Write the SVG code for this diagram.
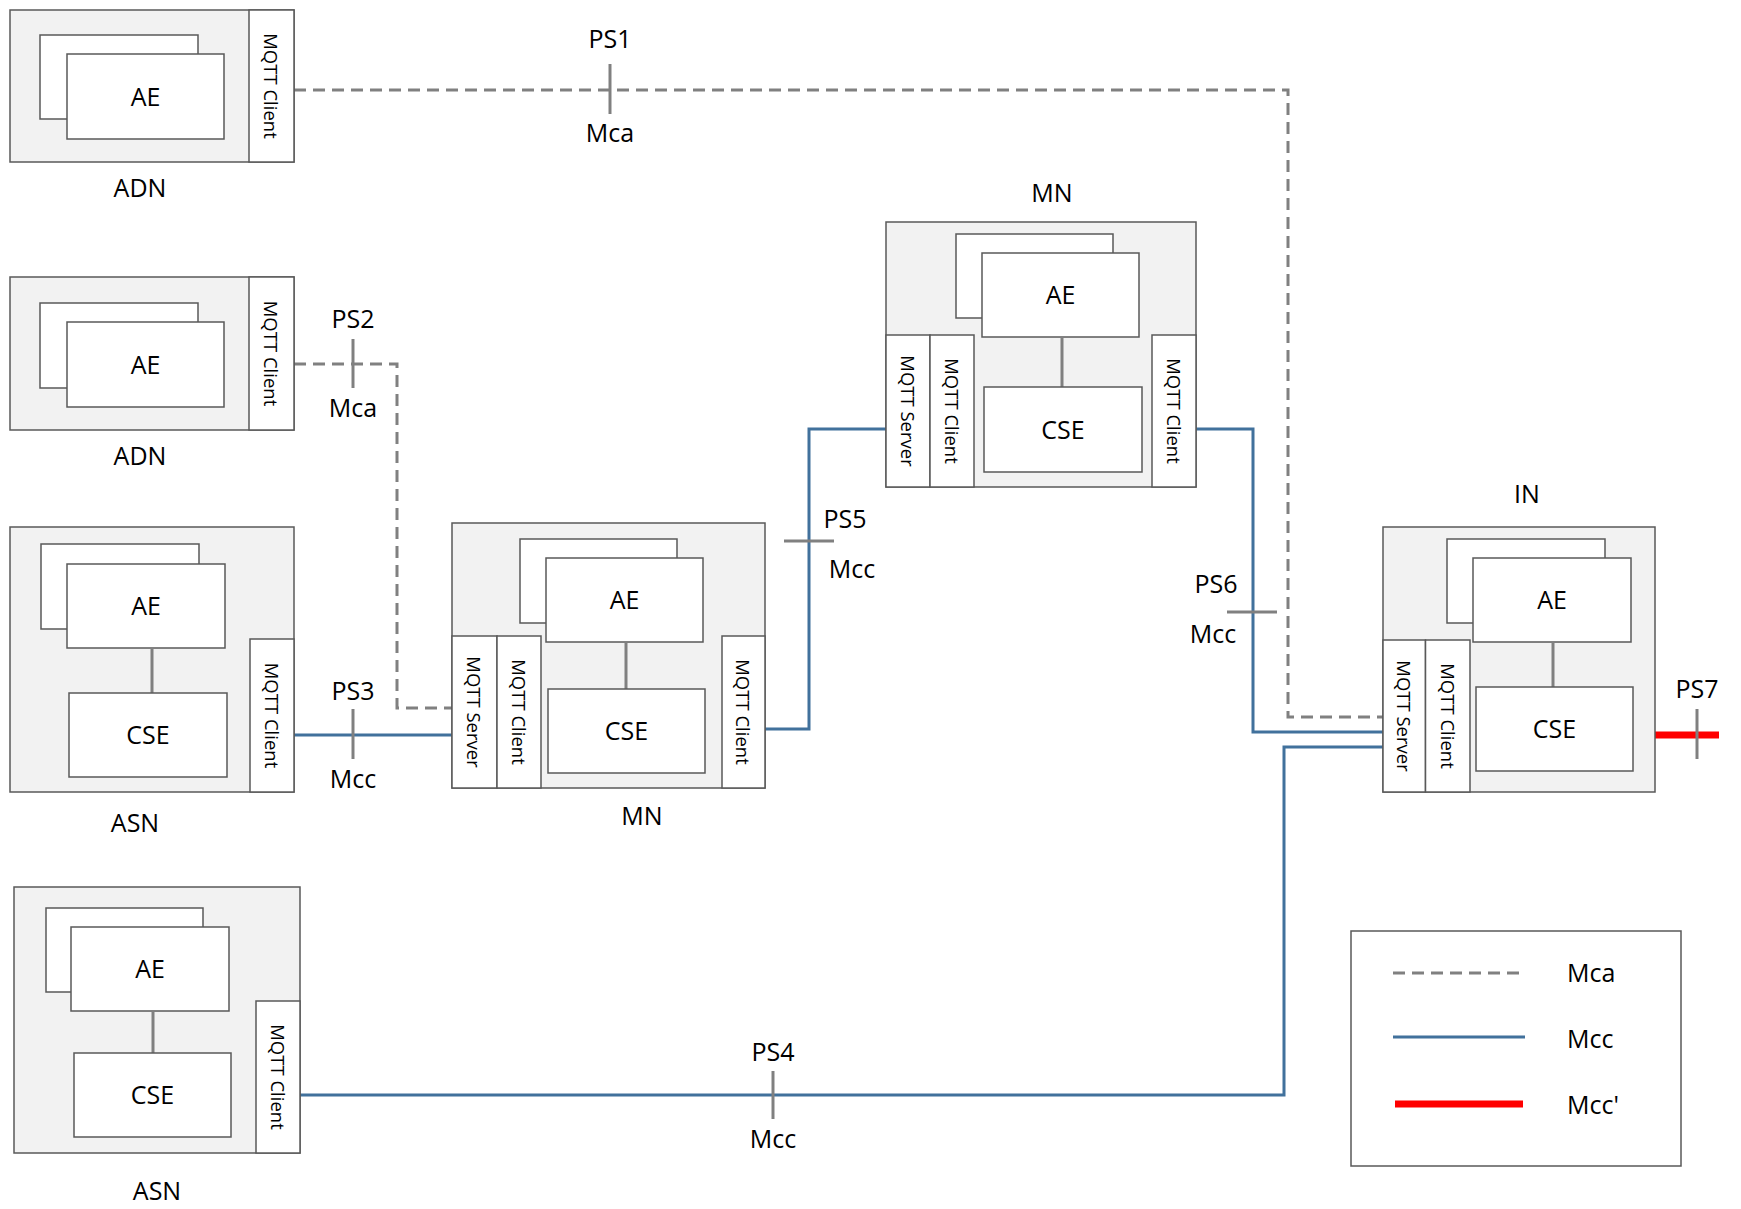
<svg xmlns="http://www.w3.org/2000/svg" width="1741" height="1209" viewBox="0 0 1741 1209">
<style>
  .bg { fill: #f2f2f2; stroke: #595959; stroke-width: 1.5; }
  .box { fill: #ffffff; stroke: #595959; stroke-width: 1.5; }
  .link { stroke: #808080; stroke-width: 3; fill: none; }
  .t { font-family: "Open Sans", "Liberation Sans", sans-serif; font-size: 25px; fill: #000; text-anchor: middle; }
  .v { font-family: "Open Sans", "Liberation Sans", sans-serif; font-size: 18.5px; fill: #000; text-anchor: middle; dominant-baseline: central; }
  .mca { stroke: #808080; stroke-width: 3; fill: none; stroke-dasharray: 12 7; }
  .mcc { stroke: #41719c; stroke-width: 3; fill: none; }
  .mccp { stroke: #ff0000; stroke-width: 7; fill: none; }
  .tick { stroke: #808080; stroke-width: 3; }
  .lt { font-family: "Open Sans", "Liberation Sans", sans-serif; font-size: 25px; fill: #000; }
</style>

<g id="connectors">
  <polyline class="mca" points="294,90 1288,90 1288,717 1383,717"/>
  <polyline class="mca" points="294,364 397,364 397,708 452,708"/>
  <polyline class="mcc" points="294,735 452,735"/>
  <polyline class="mcc" points="765,729 809,729 809,429 886,429"/>
  <polyline class="mcc" points="1196,429 1253,429 1253,732 1383,732"/>
  <polyline class="mcc" points="300,1095 1284,1095 1284,747 1383,747"/>
  <polyline class="mccp" points="1655,735 1719,735"/>
  <line class="tick" x1="610" y1="64" x2="610" y2="114"/>
  <line class="tick" x1="353" y1="339" x2="353" y2="388"/>
  <line class="tick" x1="353" y1="709" x2="353" y2="759"/>
  <line class="tick" x1="773" y1="1071" x2="773" y2="1119"/>
  <line class="tick" x1="784" y1="541" x2="834" y2="541"/>
  <line class="tick" x1="1227" y1="612" x2="1277" y2="612"/>
  <line class="tick" x1="1697" y1="709" x2="1697" y2="759"/>
  <text class="t" x="610" y="48">PS1</text>
  <text class="t" x="610" y="142">Mca</text>
  <text class="t" x="353" y="328">PS2</text>
  <text class="t" x="353" y="417">Mca</text>
  <text class="t" x="353" y="700">PS3</text>
  <text class="t" x="353" y="788">Mcc</text>
  <text class="t" x="773" y="1061">PS4</text>
  <text class="t" x="773" y="1148">Mcc</text>
  <text class="t" x="845" y="528">PS5</text>
  <text class="t" x="852" y="578">Mcc</text>
  <text class="t" x="1216" y="593">PS6</text>
  <text class="t" x="1213" y="643">Mcc</text>
  <text class="t" x="1697" y="698">PS7</text>
</g>

<g id="adn1">
  <rect class="bg" x="10" y="10" width="284" height="152"/>
  <rect class="box" x="249" y="10" width="45" height="152"/>
  <rect class="box" x="40" y="35" width="158" height="84"/>
  <rect class="box" x="67" y="54" width="157" height="85"/>
  <text class="t" x="145.5" y="105.5">AE</text>
  <text class="v" transform="translate(271.5,86) rotate(90)">MQTT Client</text>
  <text class="t" x="140" y="197">ADN</text>
</g>

<g id="adn2">
  <rect class="bg" x="10" y="277" width="284" height="153"/>
  <rect class="box" x="249" y="277" width="45" height="153"/>
  <rect class="box" x="40" y="303" width="158" height="85"/>
  <rect class="box" x="67" y="322" width="157" height="85"/>
  <text class="t" x="145.5" y="373.5">AE</text>
  <text class="v" transform="translate(271.5,353.5) rotate(90)">MQTT Client</text>
  <text class="t" x="140" y="465">ADN</text>
</g>

<g id="asn1">
  <rect class="bg" x="10" y="527" width="284" height="265"/>
  <rect class="box" x="250" y="639" width="44" height="153"/>
  <rect class="box" x="41" y="544" width="158" height="85"/>
  <rect class="box" x="67" y="564" width="158" height="84"/>
  <line class="link" x1="152" y1="648" x2="152" y2="693"/>
  <rect class="box" x="69" y="693" width="158" height="84"/>
  <text class="t" x="146" y="615">AE</text>
  <text class="t" x="148" y="744">CSE</text>
  <text class="v" transform="translate(272,715.5) rotate(90)">MQTT Client</text>
  <text class="t" x="135" y="832">ASN</text>
</g>

<g id="mn1">
  <rect class="bg" x="452" y="523" width="313" height="265"/>
  <rect class="box" x="452" y="636" width="45" height="152"/>
  <rect class="box" x="497" y="636" width="44" height="152"/>
  <rect class="box" x="722" y="636" width="43" height="152"/>
  <rect class="box" x="520" y="539" width="157" height="84"/>
  <rect class="box" x="546" y="558" width="157" height="84"/>
  <line class="link" x1="626" y1="642" x2="626" y2="689"/>
  <rect class="box" x="548" y="689" width="157" height="84"/>
  <text class="t" x="624.5" y="609">AE</text>
  <text class="t" x="626.5" y="740">CSE</text>
  <text class="v" transform="translate(474.5,712) rotate(90)">MQTT Server</text>
  <text class="v" transform="translate(519,712) rotate(90)">MQTT Client</text>
  <text class="v" transform="translate(743.5,712) rotate(90)">MQTT Client</text>
  <text class="t" x="642" y="825">MN</text>
</g>

<g id="mn2">
  <rect class="bg" x="886" y="222" width="310" height="265"/>
  <rect class="box" x="886" y="335" width="44" height="152"/>
  <rect class="box" x="930" y="335" width="44" height="152"/>
  <rect class="box" x="1152" y="335" width="44" height="152"/>
  <rect class="box" x="956" y="234" width="157" height="84"/>
  <rect class="box" x="982" y="253" width="157" height="84"/>
  <line class="link" x1="1062" y1="337" x2="1062" y2="387"/>
  <rect class="box" x="984" y="387" width="158" height="85"/>
  <text class="t" x="1060.5" y="304">AE</text>
  <text class="t" x="1063" y="438.5">CSE</text>
  <text class="v" transform="translate(908,411) rotate(90)">MQTT Server</text>
  <text class="v" transform="translate(952,411) rotate(90)">MQTT Client</text>
  <text class="v" transform="translate(1174,411) rotate(90)">MQTT Client</text>
  <text class="t" x="1052" y="202">MN</text>
</g>

<g id="in">
  <rect class="bg" x="1383" y="527" width="272" height="265"/>
  <rect class="box" x="1383" y="640" width="42.5" height="152"/>
  <rect class="box" x="1425.5" y="640" width="44.5" height="152"/>
  <rect class="box" x="1447" y="539" width="158" height="84"/>
  <rect class="box" x="1473" y="558" width="158" height="84"/>
  <line class="link" x1="1553" y1="642" x2="1553" y2="687"/>
  <rect class="box" x="1476" y="687" width="157" height="84"/>
  <text class="t" x="1552" y="609">AE</text>
  <text class="t" x="1554.5" y="738">CSE</text>
  <text class="v" transform="translate(1404,716) rotate(90)">MQTT Server</text>
  <text class="v" transform="translate(1448,716) rotate(90)">MQTT Client</text>
  <text class="t" x="1527" y="503">IN</text>
</g>

<g id="asn2">
  <rect class="bg" x="14" y="887" width="286" height="266"/>
  <rect class="box" x="256" y="1001" width="44" height="152"/>
  <rect class="box" x="46" y="908" width="157" height="84"/>
  <rect class="box" x="71" y="927" width="158" height="84"/>
  <line class="link" x1="153" y1="1011" x2="153" y2="1053"/>
  <rect class="box" x="74" y="1053" width="157" height="84"/>
  <text class="t" x="150" y="978">AE</text>
  <text class="t" x="152.5" y="1104">CSE</text>
  <text class="v" transform="translate(278,1077) rotate(90)">MQTT Client</text>
  <text class="t" x="157" y="1200">ASN</text>
</g>

<g id="legend">
  <rect x="1351" y="931" width="330" height="235" fill="#ffffff" stroke="#595959" stroke-width="1.5"/>
  <line class="mca" x1="1393" y1="973" x2="1524" y2="973"/>
  <line class="mcc" x1="1393" y1="1037" x2="1525" y2="1037"/>
  <line class="mccp" x1="1395" y1="1104" x2="1523" y2="1104"/>
  <text class="lt" x="1567" y="982">Mca</text>
  <text class="lt" x="1567" y="1048">Mcc</text>
  <text class="lt" x="1567" y="1114">Mcc'</text>
</g>
</svg>
